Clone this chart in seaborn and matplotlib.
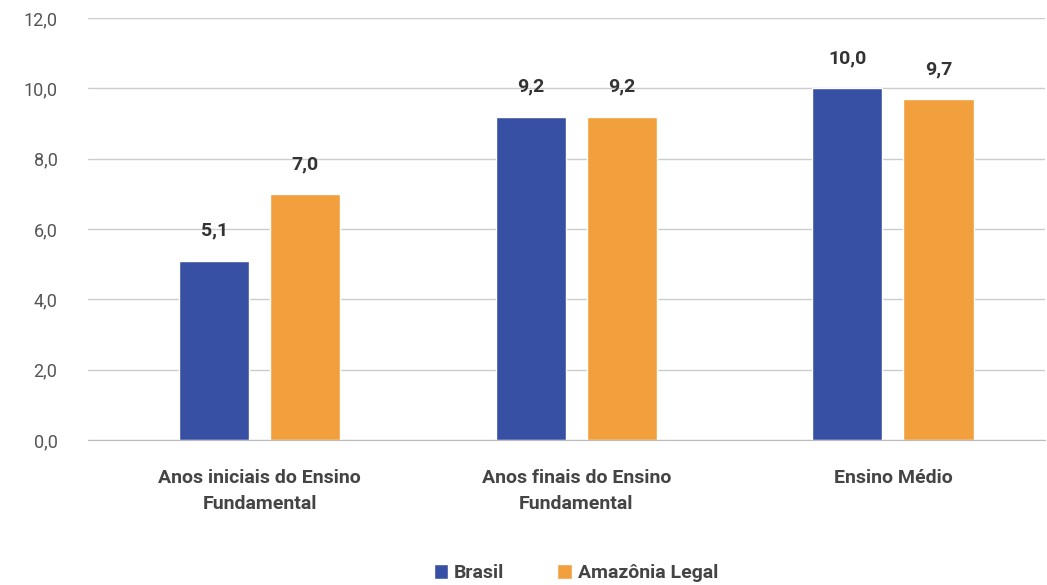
import pandas as pd
import matplotlib
matplotlib.use('Agg')
import matplotlib.pyplot as plt
import seaborn as sns

categories = ['Anos iniciais do Ensino\nFundamental', 'Anos finais do Ensino\nFundamental', 'Ensino Médio']
brasil = [5.1, 9.2, 10.0]
amazonia = [7.0, 9.2, 9.7]
series_names = ['Brasil', 'Amazônia Legal']
colors = ['#3750A4', '#F2A03D']

df = pd.DataFrame({
    'Etapa': categories * 2,
    'Valor': brasil + amazonia,
    'Serie': [series_names[0]] * 3 + [series_names[1]] * 3,
})

sns.set_style('white')
plt.rcParams['font.family'] = ['Roboto', 'DejaVu Sans']

fig = plt.figure(figsize=(10.47, 5.85), dpi=100)
ax = fig.add_axes([0.084, 0.248, 0.914, 0.721])

sns.barplot(data=df, x='Etapa', y='Valor', hue='Serie', palette=colors,
            width=0.575, gap=0.23, saturation=1, ax=ax)

for cont in ax.containers:
    ax.bar_label(cont, labels=[f'{v:.1f}'.replace('.', ',') for v in cont.datavalues],
                 padding=15, fontsize=14, fontweight='bold', color='#333333')

ax.set_ylim(0, 12)
ax.set_xlim(-0.543, 2.48)
ax.set_yticks(range(0, 13, 2))
ax.set_yticklabels([f'{v:.1f}'.replace('.', ',') for v in range(0, 13, 2)])
ax.grid(axis='y', color='#cccccc', linewidth=1)
ax.set_axisbelow(True)
for s in ['top', 'right', 'left']:
    ax.spines[s].set_visible(False)
ax.spines['bottom'].set_color('#bbbbbc')
ax.tick_params(axis='y', length=0, labelsize=13, labelcolor='#555555', pad=22)
ax.tick_params(axis='x', length=0, labelsize=14, labelcolor='#444444', pad=21)
for t in ax.get_xticklabels():
    t.set_fontweight('bold')
    t.set_linespacing(1.55)
ax.set_xlabel('')
ax.set_ylabel('')

ax.legend_.remove()
handles, labels = ax.get_legend_handles_labels()
fig.legend(handles, labels, loc='center', bbox_to_anchor=(0.55, 0.02), ncol=2,
           frameon=False, handlelength=0.75, handleheight=0.75, handletextpad=0.3,
           columnspacing=2.7, prop={'weight': 'bold', 'size': 14})
for t in fig.legends[0].get_texts():
    t.set_color('#444444')

fig.savefig('out.png', dpi=100)
